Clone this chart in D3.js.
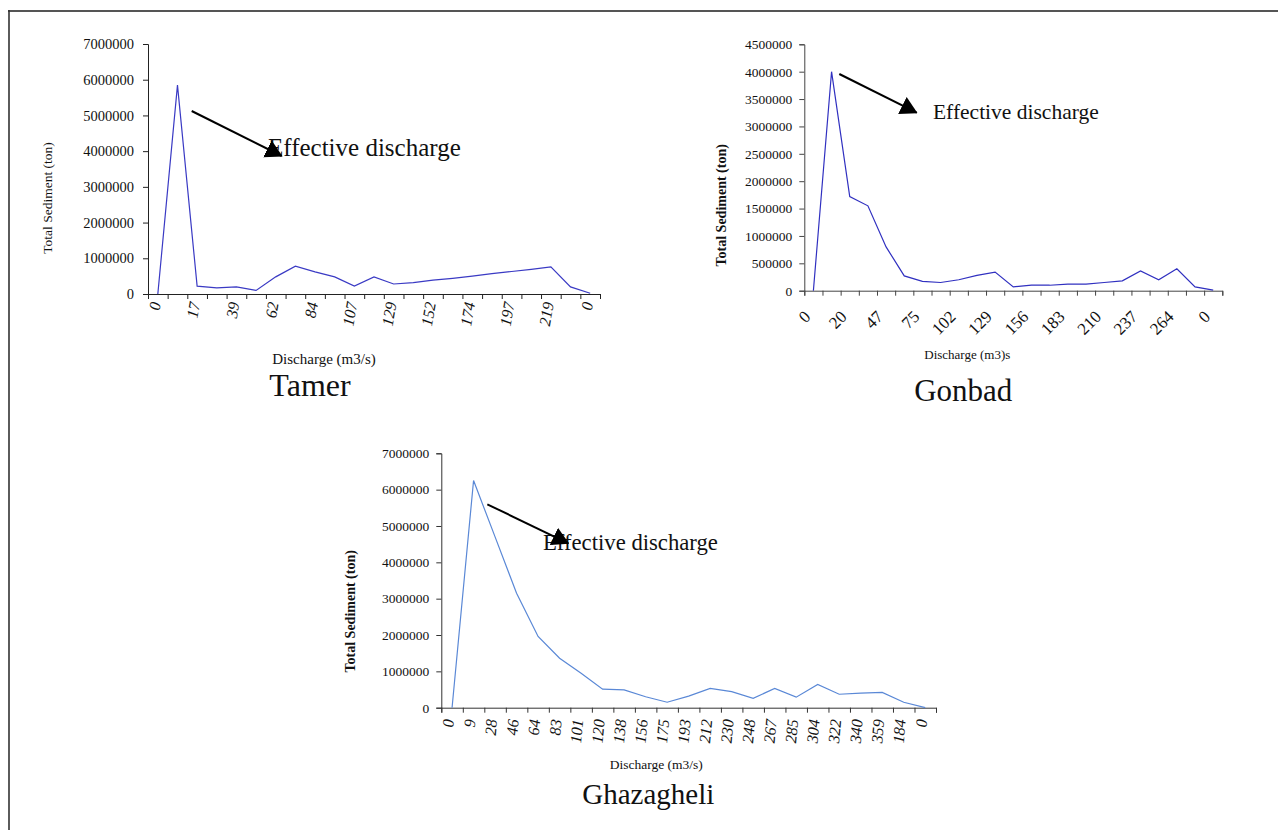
<!DOCTYPE html>
<html>
<head>
<meta charset="utf-8">
<script src="https://cdn.jsdelivr.net/npm/d3@7"></script>
<style>
  body { margin: 0; background: #fff; }
  svg text { font-family: "Liberation Serif", "Times New Roman", serif; fill: #111; }
</style>
</head>
<body>
<svg id="chart" width="1288" height="830"></svg>
<script>
// discharge classes (m3/s) and total sediment (ton)
var tamerDischarge = [0, 6, 17, 28, 39, 51, 62, 73, 84, 96, 107, 118, 129, 141, 152, 163, 174, 186, 197, 208, 219, 230, 0]
var tamerSediment = [0, 5850000, 220000, 170000, 200000, 100000, 480000, 780000, 620000, 480000, 220000, 480000,
                     280000, 320000, 390000, 440000, 500000, 570000, 630000, 690000, 760000, 200000, 20000]

var gonbadDischarge = [0, 7, 20, 34, 47, 61, 75, 88, 102, 115, 129, 142, 156, 169, 183, 196, 210, 223, 237, 250, 264, 277, 0]
var gonbadSediment = [0, 4000000, 1720000, 1550000, 800000, 270000, 170000, 150000, 200000, 280000, 340000, 70000,
                      100000, 100000, 120000, 120000, 150000, 180000, 360000, 200000, 400000, 70000, 10000]

var ghazDischarge = [0, 9, 28, 46, 64, 83, 101, 120, 138, 156, 175, 193, 212, 230, 248, 267, 285, 304, 322, 340, 359, 184, 0]
var ghazSediment = [0, 6250000, 4700000, 3150000, 1960000, 1360000, 950000, 510000, 490000, 300000, 150000, 320000,
                    530000, 440000, 260000, 530000, 290000, 640000, 370000, 400000, 420000, 150000, 0]

var tamerYTicks = d3.range(0, 7000001, 1000000)
var gonbadYTicks = d3.range(0, 4500001, 500000)
var ghazYTicks = d3.range(0, 7000001, 1000000)

svg = d3.select("#chart")

// frame around the figure
svg.append("line").attr("x1", 8).attr("x2", 1278).attr("y1", 11).attr("y2", 11)
   .attr("stroke", "#555").attr("stroke-width", 2)
svg.append("line").attr("x1", 9).attr("x2", 9).attr("y1", 10).attr("y2", 830)
   .attr("stroke", "#333").attr("stroke-width", 1.6)

svg.append("defs").append("marker")
   .attr("id", "arrowHead")
   .attr("markerUnits", "userSpaceOnUse")
   .attr("viewBox", "0 0 17 19")
   .attr("refX", 16).attr("refY", 9.5)
   .attr("markerWidth", 17).attr("markerHeight", 19)
   .attr("orient", "auto")
   .append("path").attr("d", "M0,0 L17,9.5 L0,19 Z").attr("fill", "#000")

function drawPanel(p){
    var g = svg.append("g").attr("transform", "translate(" + p.left + "," + p.top + ")")

    var x = d3.scaleBand().domain(d3.range(p.labels.length)).range([0, p.width])
    var xEdge = d3.scaleLinear().domain([0, p.labels.length]).range([0, p.width])
    var y = d3.scaleLinear().domain([0, p.yMax]).range([p.height, 0])

    // y axis
    var yAxis = g.append("g")
       .call(d3.axisLeft(y).tickValues(p.yTicks).tickSize(5).tickPadding(p.yPad).tickFormat(d3.format("d")))
    yAxis.selectAll("text").style("font-size", p.yFont + "px").attr("fill", "#111")
    yAxis.selectAll("line, path").attr("stroke", p.axisColor)

    // x axis: ticks at category edges
    var xTicks = g.append("g").attr("transform", "translate(0," + p.height + ")")
       .call(d3.axisBottom(xEdge).tickValues(d3.range(p.labels.length + 1)).tickSize(5).tickFormat(""))
    xTicks.selectAll("line, path").attr("stroke", p.axisColor)

    // x labels at category centres
    var step = p.labelStep
    g.append("g").selectAll("text")
       .data(p.labels.map(function(d, i){ return {v: d, i: i} }).filter(function(d){ return d.i % step == 0 }))
       .join("text")
       .attr("transform", function(d){
           return "translate(" + (x(d.i) + x.bandwidth() / 2 + p.lx) + "," + (p.height + p.ly) + ") rotate(" + p.rot + ")"
       })
       .attr("text-anchor", "end")
       .style("font-size", p.xFont + "px")
       .style("font-style", p.italic ? "italic" : "normal")
       .text(function(d){ return d.v })

    // sediment line
    var line = d3.line()
       .x(function(d, i){ return x(i) + x.bandwidth() / 2 })
       .y(function(d){ return y(d) })
    g.append("path").datum(p.values)
       .attr("d", line)
       .attr("fill", "none")
       .attr("stroke", p.color)
       .attr("stroke-width", 1.2)

    // axis titles
    g.append("text")
       .attr("transform", "translate(" + p.yTitle[0] + "," + p.yTitle[1] + ") rotate(-90)")
       .attr("text-anchor", "middle")
       .style("font-size", p.yTitleFont + "px")
       .style("font-weight", p.yTitleBold ? "bold" : "normal")
       .text("Total Sediment (ton)")
    g.append("text")
       .attr("x", p.xTitle[0]).attr("y", p.xTitle[1])
       .attr("text-anchor", "middle")
       .style("font-size", p.xTitleFont + "px")
       .text(p.xTitleText)

    // station name
    g.append("text")
       .attr("x", p.name[0]).attr("y", p.name[1])
       .attr("text-anchor", "middle")
       .style("font-size", p.nameFont + "px")
       .text(p.station)

    // annotation
    g.append("text")
       .attr("x", p.note[0]).attr("y", p.note[1])
       .style("font-size", p.noteFont + "px")
       .text("Effective discharge")
    g.append("line")
       .attr("x1", p.arrow[0]).attr("y1", p.arrow[1])
       .attr("x2", p.arrow[2]).attr("y2", p.arrow[3])
       .attr("stroke", "#000").attr("stroke-width", 2)
       .attr("marker-end", "url(#arrowHead)")
}

drawPanel({
    station: "Tamer", labels: tamerDischarge, values: tamerSediment, yTicks: tamerYTicks, yMax: 7000000,
    left: 148, top: 44, width: 452, height: 250,
    color: "#3a3ac4", axisColor: "#222", yFont: 14.5, yPad: 9, xFont: 16, italic: true,
    labelStep: 2, rot: -80, lx: 3, ly: 9,
    yTitle: [-96, 154], yTitleBold: false, yTitleFont: 13.5,
    xTitle: [176, 320], xTitleText: "Discharge (m3/s)", xTitleFont: 15,
    name: [162, 352], nameFont: 32, note: [120, 112], noteFont: 25, arrow: [43.7, 67, 133.7, 112]
})

drawPanel({
    station: "Gonbad", labels: gonbadDischarge, values: gonbadSediment, yTicks: gonbadYTicks, yMax: 4500000,
    left: 804.3, top: 44.3, width: 418, height: 246.4,
    color: "#3030c0", axisColor: "#444", yFont: 13.5, yPad: 7, xFont: 17, italic: false,
    labelStep: 2, rot: -45, lx: -2, ly: 27,
    yTitle: [-78, 161], yTitleBold: true, yTitleFont: 14,
    xTitle: [163, 315], xTitleText: "Discharge (m3)s", xTitleFont: 13,
    name: [159, 357], nameFont: 31, note: [128.7, 74.7], noteFont: 21.5, arrow: [35, 29.7, 112.4, 68.4]
})

drawPanel({
    station: "Ghazagheli", labels: ghazDischarge, values: ghazSediment, yTicks: ghazYTicks, yMax: 7000000,
    left: 441.3, top: 453.3, width: 494.7, height: 254.4,
    color: "#5a88d6", axisColor: "#333", yFont: 13.5, yPad: 7, xFont: 16, italic: true,
    labelStep: 1, rot: -85, lx: 2, ly: 12,
    yTitle: [-86, 158], yTitleBold: true, yTitleFont: 14,
    xTitle: [215, 316], xTitleText: "Discharge (m3/s)", xTitleFont: 13.5,
    name: [207, 351], nameFont: 29, note: [101.7, 96.7], noteFont: 22.7, arrow: [46, 51, 127, 90]
})
</script>
</body>
</html>
